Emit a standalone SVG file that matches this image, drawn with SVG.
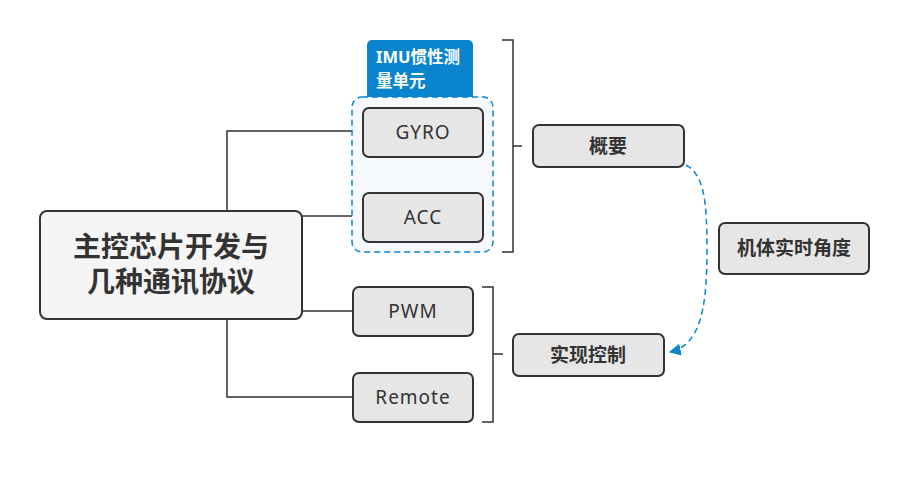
<svg xmlns="http://www.w3.org/2000/svg" width="910" height="487" viewBox="0 0 910 487">
<defs>
<style>
.node{fill:#e6e6e6;stroke:#333;stroke-width:2}
.t{font-family:"Noto Sans","Noto Sans CJK SC",sans-serif;fill:#333;text-anchor:middle}
.en{font-size:19px;letter-spacing:1px}
.cn{font-size:19px;font-weight:bold}
.ln{fill:none;stroke:#333;stroke-width:1.5}
</style>
<marker id="arr" viewBox="0 0 10 10" refX="9" refY="5" markerWidth="8" markerHeight="8" orient="auto">
<path d="M0,0 L10,5 L0,10 z" fill="#0a86d0"/>
</marker>
</defs>
<rect width="910" height="487" fill="#fff"/>
<g id="connectors">
<path class="ln" d="M227,211 V131 H363"/>
<path class="ln" d="M302,216 H363"/>
<path class="ln" d="M302,311 H353"/>
<path class="ln" d="M227,319 V397 H353"/>
<path class="ln" d="M502,40 H513 V252 H502 M513,146 H522"/>
<path class="ln" d="M482,287 H493 V422 H482 M493,354 H503"/>
<path d="M686,165 C704,175 707,200 707,250 C707,310 700,345 670,352" fill="none" stroke="#0a86d0" stroke-width="1.5" stroke-dasharray="6,4" marker-end="url(#arr)"/>
</g>
<g id="boundary">
<rect x="352" y="97" width="141" height="155" rx="10" fill="#f5f9fd" stroke="#0a86d0" stroke-width="1.5" stroke-dasharray="6,4"/>
<path d="M367,97 V45 a5,5 0 0 1 5,-5 H468 a5,5 0 0 1 5,5 V97 z" fill="#0a84cf"/>
<text x="376" y="63" font-family="Noto Sans,Noto Sans CJK SC,sans-serif" font-size="16.5" font-weight="bold" fill="#fff">IMU惯性测</text>
<text x="376" y="87" font-family="Noto Sans,Noto Sans CJK SC,sans-serif" font-size="16.5" font-weight="bold" fill="#fff">量单元</text>
</g>
<g id="main">
<rect x="40" y="211" width="262" height="108" rx="7" fill="#f5f5f5" stroke="#333" stroke-width="2"/>
<text class="t" x="171" y="257" font-size="28" font-weight="bold">主控芯片开发与</text>
<text class="t" x="171" y="292" font-size="28" font-weight="bold">几种通讯协议</text>
</g>
<g id="gyro"><rect class="node" x="363" y="108" width="120" height="49" rx="6"/><text class="t en" x="423" y="139">GYRO</text></g>
<g id="acc"><rect class="node" x="363" y="193" width="120" height="49" rx="6"/><text class="t en" x="423" y="224">ACC</text></g>
<g id="pwm"><rect class="node" x="353" y="287" width="120" height="49" rx="6"/><text class="t en" x="413" y="318">PWM</text></g>
<g id="remote"><rect class="node" x="353" y="373" width="120" height="49" rx="6"/><text class="t en" x="413" y="404">Remote</text></g>
<g id="gaiyao"><rect class="node" x="533" y="125" width="151" height="42" rx="6"/><text class="t cn" x="608" y="153">概要</text></g>
<g id="shixian"><rect class="node" x="513" y="334" width="151" height="42" rx="6"/><text class="t cn" x="588" y="362">实现控制</text></g>
<g id="jiti"><rect class="node" x="719" y="223" width="150" height="51" rx="6"/><text class="t cn" x="794" y="255" font-size="20">机体实时角度</text></g>
</svg>
